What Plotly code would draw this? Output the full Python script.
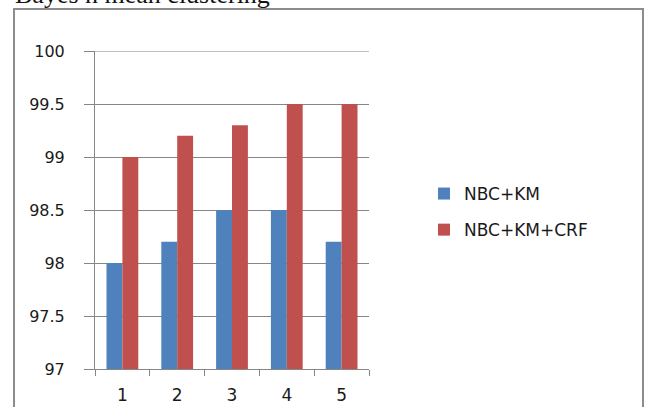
import plotly.graph_objects as go

categories = ["1", "2", "3", "4", "5"]
nbc_km = [98.0, 98.2, 98.5, 98.5, 98.2]
nbc_km_crf = [99.0, 99.2, 99.3, 99.5, 99.5]
y_ticks = [97, 97.5, 98, 98.5, 99, 99.5, 100]
y_tick_text = ["97", "97.5", "98", "98.5", "99", "99.5", "100"]

W, H = 646, 407
L, R, T, B = 95, 369, 51, 369  # plot area in pixels
PW, PH = R - L, B - T

def px_x(x):
    return (x - L) / PW

def px_y(y):
    return (B - y) / PH

FONT = "DejaVu Sans"
GRID = "#868686"

fig = go.Figure()
fig.add_trace(go.Bar(x=categories, y=nbc_km, name="NBC+KM", marker_color="#4F81BD",
                     marker_line_width=0, legendgroup="a"))
fig.add_trace(go.Bar(x=categories, y=nbc_km_crf, name="NBC+KM+CRF", marker_color="#C0504D",
                     marker_line_width=0, legendgroup="b"))

fig.update_layout(
    width=W, height=H,
    margin=dict(l=L, r=W - R, t=T, b=H - B, pad=0, autoexpand=False),
    paper_bgcolor="white", plot_bgcolor="white",
    barmode="group", bargap=0.42, bargroupgap=0,
    font=dict(family=FONT, size=16, color="#1a1a1a"),
    showlegend=True,
    legend=dict(x=px_x(424), xanchor="left", y=px_y(176), yanchor="top",
                font=dict(family=FONT, size=17, color="#1a1a1a"),
                traceorder="grouped", tracegroupgap=11,
                bgcolor="rgba(0,0,0,0)"),
    xaxis=dict(type="category", range=[-0.5, 4.5], showgrid=False,
               showline=True, linecolor=GRID, linewidth=1,
               ticks="outside", tickson="boundaries", ticklen=6, tickcolor=GRID,
               ticklabelstandoff=11, tickfont=dict(family=FONT, size=17, color="#1a1a1a"),
               automargin=False, fixedrange=True),
    yaxis=dict(range=[97, 100], tickvals=y_ticks, ticktext=y_tick_text,
               showgrid=True, gridcolor=GRID, gridwidth=1,
               showline=True, linecolor=GRID, linewidth=1,
               ticks="outside", ticklen=10, tickcolor=GRID,
               ticklabelstandoff=16, tickfont=dict(family=FONT, size=16, color="#1a1a1a"),
               zeroline=False, automargin=False, fixedrange=True),
)

# top gridline (plotly hides the gridline at the range edge)
fig.add_shape(type="line", xref="paper", yref="y", x0=0, x1=1,
              y0=y_ticks[-1], y1=y_ticks[-1], line=dict(color=GRID, width=1), layer="below")

# outer chart frame
fig.add_shape(type="rect", xref="paper", yref="paper",
              x0=px_x(14), x1=px_x(643), y0=px_y(420), y1=px_y(9),
              line=dict(color="#8c8c8c", width=2), fillcolor="rgba(0,0,0,0)", layer="below")

# cut-off caption above the chart
fig.add_annotation(text="Bayes n mean clustering", xref="paper", yref="paper",
                   x=px_x(13), xanchor="left", y=px_y(11), yanchor="bottom",
                   showarrow=False, font=dict(family="Liberation Serif", size=26, color="#111"))

fig.write_html("out.html")
